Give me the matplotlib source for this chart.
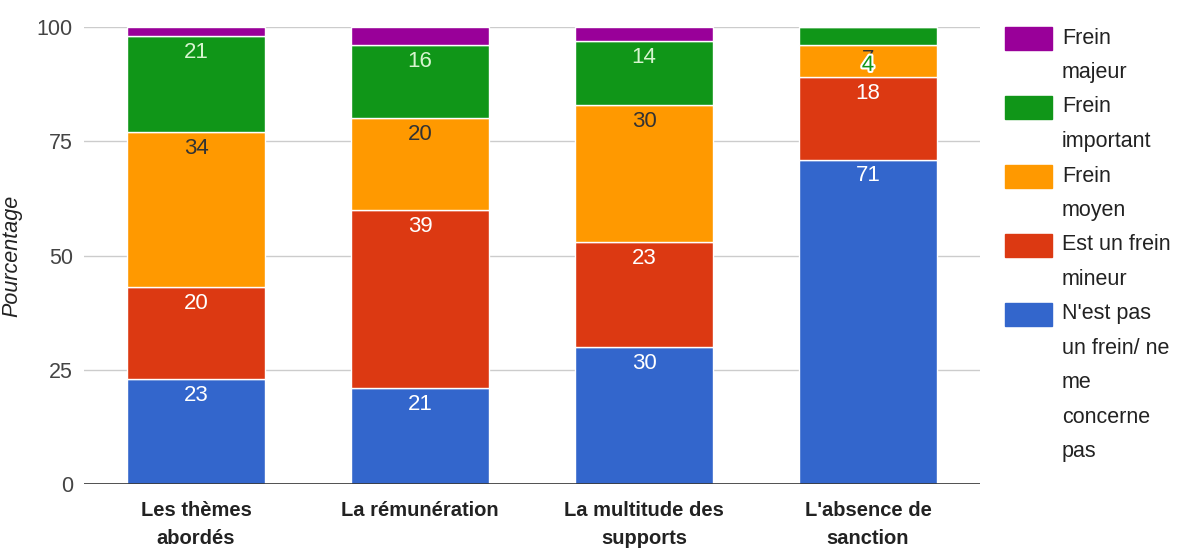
import matplotlib
matplotlib.use("Agg")
import matplotlib.pyplot as plt
import matplotlib.patheffects as pe
from matplotlib.patches import Rectangle
import numpy as np

plt.rcParams['font.family'] = ['Liberation Sans', 'DejaVu Sans']

categories = ["Les thèmes\nabordés", "La rémunération", "La multitude des\nsupports", "L'absence de\nsanction"]
series_names = ["N'est pas\nun frein/ ne\nme\nconcerne\npas", "Est un frein\nmineur", "Frein\nmoyen", "Frein\nimportant", "Frein\nmajeur"]
pas_frein = [23, 21, 30, 71]
mineur = [20, 39, 23, 18]
moyen = [34, 20, 30, 7]
important = [21, 16, 14, 4]
majeur = [2, 4, 3, 0]
yticks = [0, 25, 50, 75, 100]

colors = ["#3366cc", "#dc3912", "#ff9900", "#109618", "#990099"]
label_colors = ["#ffffff", "#ffffff", "#333333", "#d8f5d0", "#ffffff"]
series = [pas_frein, mineur, moyen, important, majeur]

fig = plt.figure(figsize=(11.89, 5.48), dpi=100)
ax = fig.add_axes([84/1189, 1 - 484/548, (980-84)/1189, (484-27)/548])

x = np.arange(len(categories))
bottom = np.zeros(len(categories))
for vals, col, lc in zip(series, colors, label_colors):
    v = np.array(vals, dtype=float)
    ax.bar(x, v, bottom=bottom, width=0.616, color=col, edgecolor="white", linewidth=1, zorder=3)
    for i, val in enumerate(v):
        if val >= 10:
            ax.text(x[i], bottom[i] + val - 3.6, f"{int(val)}", ha="center", va="center",
                    color=lc, fontsize=16, zorder=5)
        elif val >= 5:
            ax.text(x[i], bottom[i] + val - 3.2, f"{int(val)}", ha="center", va="center",
                    color=lc, fontsize=16, zorder=5)
    bottom += v

# small green value in last bar drawn over the orange segment (as in the original)
i = 3
ax.text(x[i], pas_frein[i] + mineur[i] + moyen[i] - 4.4, f"{important[i]}", ha="center", va="center",
        color="#109618", fontsize=16, zorder=6,
        path_effects=[pe.withStroke(linewidth=3, foreground="white")])

ax.set_xlim(-0.5, len(categories) - 0.5)
ax.set_ylim(0, 100)
ax.set_yticks(yticks)
ax.set_yticklabels([str(t) for t in yticks], fontsize=15.5, color="#444444")
ax.set_xticks(x)
ax.set_xticklabels(categories, fontsize=14.5, fontweight="bold", color="#222222", linespacing=1.6)
ax.tick_params(axis="y", length=0, pad=8)
ax.tick_params(axis="x", length=0, pad=12)
for t in yticks[1:]:
    ax.axhline(t, color="#cccccc", linewidth=1, zorder=1)
ax.axhline(0, color="#333333", linewidth=1.2, zorder=4)
for s in ax.spines.values():
    s.set_visible(False)
ax.set_ylabel("Pourcentage", fontsize=15.5, style="italic", color="#222222")
ax.yaxis.set_label_coords((22 - 84) / 896, 0.5)

# legend (drawn manually, top to bottom: majeur -> pas un frein)
W, H = 1189, 548
line_h = 34.5
y = 38
for name, col in zip(series_names[::-1], colors[::-1]):
    fig.patches.append(Rectangle((1005/W, 1 - (y + 12)/H), 47/W, 23/H,
                                 transform=fig.transFigure, color=col))
    for j, ln in enumerate(name.split("\n")):
        fig.text(1062/W, 1 - (y + j*line_h)/H, ln, fontsize=15.5, color="#222222",
                 va="center", ha="left")
    y += line_h * len(name.split("\n"))

fig.savefig("out.png", dpi=100)
